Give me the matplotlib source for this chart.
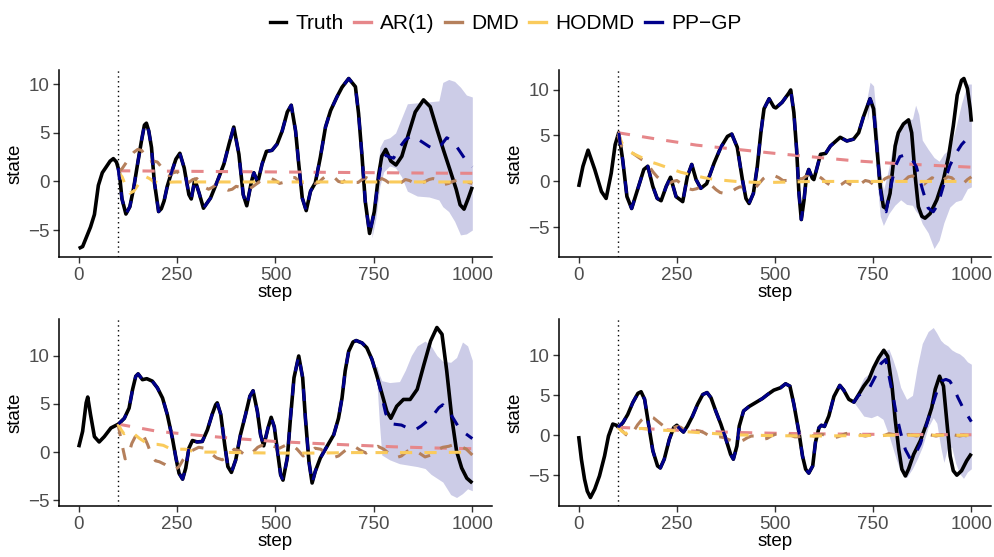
import matplotlib
matplotlib.use("Agg")
import matplotlib.pyplot as plt
from matplotlib.lines import Line2D

plt.rcParams['font.family'] = ['Liberation Sans', 'DejaVu Sans']

# ---------------- legend / series names ----------------
series_names = ["Truth", "AR(1)", "DMD", "HODMD", "PP\u2212GP"]
series_colors = ["#000000", "#E6878A", "#B5805C", "#FACB5C", "#00008B"]
x_ticks = [0, 250, 500, 750, 1000]
y_ticks = [-5, 0, 5, 10]
split_step = 100

# ---------------- panel 1 (top-left) ----------------
p1_truth_s = [0,10,20,30,40,50,60,70,80,88,96,103,110,120,130,140,150,160,167,172,178,185,192,203,210,217,225,234,247,257,268,280,286,295,306,317,335,352,369,382,394,407,418,427,439,445,455,466,477,491,504,517,530,540,551,559,568,578,589,601,614,627,640,656,669,686,703,711,720,728,739,751,762,770,780,793,806,821,838,855,876,893,910,927,944,959,969,979,990,1000]
p1_truth_v = [-6.9,-6.7,-5.7,-4.7,-3.4,-0.4,0.9,1.5,2.1,2.35,2.0,1.0,-1.8,-3.35,-2.6,-0.6,1.9,4.3,5.8,6.0,5.2,3.5,0.0,-3.1,-2.8,-2.0,-0.5,0.7,2.3,2.9,1.4,-1.35,-1.8,0.2,-1.2,-2.75,-1.7,0.0,1.8,3.85,5.6,2.8,-1.35,-2.5,0.0,0.9,-0.1,1.8,3.1,3.2,3.85,5.2,7.15,7.85,5.2,1.8,-1.7,-3.0,-1.0,-0.15,2.5,5.6,7.3,8.7,9.7,10.6,9.75,7.0,2.5,-2.05,-5.35,-3.1,0.7,2.6,3.3,2.1,1.7,2.6,4.9,7.15,8.4,7.7,5.4,3.2,1.1,-0.8,-2.4,-2.85,-1.7,-0.55]
p1_gp_s = [100,110,120,130,140,150,160,167,172,178,185,192,203,210,217,225,234,247,257,268,280,286,295,306,317,335,352,369,382,394,407,418,427,439,445,455,466,477,491,504,517,530,540,551,559,568,578,589,601,614,627,640,656,669,686,703,711,720,728,739,751,760,770,780,790,800,815,830,845,860,875,890,905,920,935,948,960,970,980,990,1000]
p1_gp_v = [1.4,-1.8,-3.35,-2.6,-0.6,1.9,4.3,5.8,6.0,5.2,3.5,0.0,-3.1,-2.8,-2.0,-0.5,0.7,2.3,2.9,1.4,-1.35,-1.8,0.2,-1.2,-2.75,-1.7,0.0,1.8,3.85,5.6,2.8,-1.35,-2.5,0.0,0.9,-0.1,1.8,3.1,3.2,3.85,5.2,7.15,7.85,5.2,1.8,-1.7,-3.0,-1.0,-0.15,2.5,5.6,7.3,8.7,9.7,10.6,9.75,7.0,2.5,-2.05,-5.35,-3.1,-0.2,2.2,2.7,2.5,2.4,3.5,4.3,4.7,4.4,4.0,3.6,3.3,3.7,4.5,4.2,3.6,3.0,2.4,1.9,1.5]
p1_band_s = [745,755,765,775,790,805,820,835,860,890,915,925,940,955,970,985,1000]
p1_band_hi = [-4.4,-1.5,3.5,4.3,4.5,5.0,6.5,8.0,8.1,8.2,8.3,10.2,10.5,10.3,9.7,8.9,8.7]
p1_band_lo = [-5.8,-3.8,-0.5,1.0,1.6,1.4,0.5,-1.0,-1.5,-1.6,-1.9,-2.6,-3.1,-4.1,-5.5,-5.4,-5.0]
p1_ar_s = [100,200,300,400,500,600,700,800,900,1000]
p1_ar_v = [1.10,1.07,1.04,1.01,0.98,0.95,0.92,0.89,0.86,0.84]
p1_hod_s = [100,110,120,130,140,150,160,170,180,190,200,250,300,400,500,600,700,800,900,1000]
p1_hod_v = [1.0,0.5,-0.5,-1.2,-1.0,-0.4,0.2,0.5,0.3,0.0,-0.1,-0.05,-0.05,-0.05,-0.05,-0.05,-0.05,-0.05,-0.05,-0.05]
p1_dmd_s = [100,110,120,130,140,150,160,170,180,190,200,210,220,230,240,250,260,270,280,290,300,310,320,330,340,350,360,370,380,390,400,410,420,430,440,450,460,470,480,490,500,510,520,530,540,550,560,570,580,590,600,610,620,630,640,650,660,670,680,690,700,710,720,730,740,750,760,770,780,790,800,810,820,830,840,850,860,870,880,890,900,910,920,930,940,950,960,970,980,990,1000]
p1_dmd_v = [1.0,1.3,1.9,2.5,3.0,3.3,3.2,2.6,2.0,2.1,2.0,1.5,0.9,0.6,0.9,1.0,0.6,0.1,-0.1,0.2,0.3,-0.1,-0.6,-0.8,-0.6,-0.3,-0.4,-0.7,-0.9,-0.8,-0.5,-0.6,-0.8,-0.8,-0.6,-0.3,0.0,0.2,0.3,0.3,0.1,-0.2,-0.1,0.2,0.4,0.4,0.0,-0.3,-0.2,0.0,-0.2,-0.1,0.3,0.6,0.6,0.4,0.0,-0.1,0.2,0.1,-0.1,-0.1,0.2,0.4,0.2,0.0,0.1,0.3,0.1,-0.2,-0.3,-0.3,-0.1,0.2,0.1,-0.1,-0.3,-0.2,0.0,0.2,0.3,0.2,-0.1,-0.3,-0.2,0.0,0.1,0.2,0.1,-0.1,-0.2]

# ---------------- panel 2 (top-right) ----------------
p2_truth_s = [0,11,24,41,58,70,83,93,102,112,123,135,150,166,176,189,200,210,223,234,248,265,277,288,299,311,326,345,362,379,390,404,417,426,434,445,455,464,472,485,497,502,518,535,540,548,555,561,567,574,580,586,595,599,608,616,629,641,658,666,683,700,713,725,742,751,759,768,776,783,793,806,814,827,840,848,857,865,874,882,895,912,929,942,954,964,975,981,990,997,1000]
p2_truth_v = [-0.6,1.65,3.4,1.3,-1.1,-1.85,0.9,4.0,5.3,2.4,-1.65,-2.95,-0.9,1.3,1.65,-0.55,-1.85,-2.1,-0.55,0.45,-1.65,-2.2,0.55,1.85,0.2,-0.75,-0.25,2.0,3.7,4.9,5.15,3.7,0.2,-1.85,-2.4,-1.3,1.65,5.3,7.9,9.0,8.1,8.0,8.6,9.6,9.95,7.5,3.5,-1.3,-4.15,-2.0,0.55,1.3,0.35,0.2,1.65,2.95,3.05,3.85,4.5,4.8,4.4,4.6,5.3,7.0,9.0,7.9,3.85,-0.55,-2.75,-2.95,-1.3,3.85,5.3,6.25,6.7,5.3,0.55,-2.75,-3.8,-4.0,-3.5,-2.0,0.2,2.75,6.05,9.4,11.0,11.2,10.1,7.9,6.5]
p2_gp_s = [102,112,123,135,150,166,176,189,200,210,223,234,248,265,277,288,299,311,326,345,362,379,390,404,417,426,434,445,455,464,472,485,497,502,518,535,540,548,555,561,567,574,580,586,595,599,608,616,629,641,658,666,683,700,713,725,742,751,759,768,776,783,793,805,818,832,846,860,875,890,903,915,930,945,960,975,990,1000]
p2_gp_v = [5.3,2.4,-1.65,-2.95,-0.9,1.3,1.65,-0.55,-1.85,-2.1,-0.55,0.45,-1.65,-2.2,0.55,1.85,0.2,-0.75,-0.25,2.0,3.7,4.9,5.15,3.7,0.2,-1.85,-2.4,-1.3,1.65,5.3,7.9,9.0,8.1,8.0,8.6,9.6,9.95,7.5,3.5,-1.3,-4.15,-2.0,0.55,1.3,0.35,0.2,1.65,2.95,3.05,3.85,4.5,4.8,4.4,4.6,5.3,7.0,9.0,7.9,3.85,-0.8,-3.2,-3.3,-1.0,1.5,2.7,2.9,2.6,1.6,-0.8,-2.9,-3.3,-2.5,-0.3,1.7,3.0,4.0,4.7,4.9]
p2_band_s = [735,742,751,759,768,776,790,805,820,835,850,858,866,875,890,905,918,930,945,960,975,990,1000]
p2_band_hi = [9.2,10.8,10.4,6.5,1.5,-1.0,1.5,5.0,6.0,6.6,6.8,8.3,7.3,4.5,3.5,2.6,2.2,3.0,3.5,5.8,8.5,10.6,10.6]
p2_band_lo = [6.6,8.3,6.0,0.5,-3.8,-4.8,-3.5,-2.6,-2.0,-2.5,-2.6,-3.2,-3.6,-4.6,-5.6,-7.3,-6.4,-4.5,-2.8,-2.2,-2.0,-0.8,-0.6]
p2_ar_s = [100,200,300,400,500,600,700,800,900,1000]
p2_ar_v = [5.3,4.6,3.95,3.5,3.05,2.65,2.25,1.97,1.75,1.55]
p2_hod_s = [100,110,120,130,140,155,170,185,200,220,240,260,280,300,320,350,400,450,500,600,700,800,900,1000]
p2_hod_v = [5.3,4.2,3.6,3.3,3.0,2.7,2.4,2.1,1.9,1.6,1.3,1.0,0.8,0.6,0.4,0.2,0.0,-0.1,-0.1,0.0,0.0,0.0,0.0,0.0]
p2_dmd_s = [100,110,120,130,140,150,160,170,180,190,200,210,220,230,240,250,260,270,280,290,300,310,320,330,340,350,360,370,380,390,400,410,420,430,440,450,460,470,480,490,500,510,520,530,540,550,560,570,580,590,600,610,620,630,640,650,660,670,680,690,700,710,720,730,740,750,760,770,780,790,800,810,820,830,840,850,860,870,880,890,900,910,920,930,940,950,960,970,980,990,1000]
p2_dmd_v = [5.0,3.8,3.3,3.2,3.0,2.7,2.4,2.2,1.6,1.0,0.5,0.1,-0.2,-0.2,0.0,0.1,-0.2,-0.6,-0.8,-0.9,-0.8,-0.6,-0.4,-0.3,-0.5,-0.9,-1.2,-1.3,-1.3,-1.1,-0.8,-0.6,-0.6,-0.8,-0.9,-0.7,-0.2,0.3,0.6,0.7,0.6,0.4,0.1,0.1,0.4,0.5,0.3,0.3,0.6,0.8,0.8,0.6,0.3,-0.1,-0.4,-0.5,-0.5,-0.3,0.0,-0.3,-0.5,-0.5,-0.2,0.1,0.0,-0.3,-0.4,-0.1,0.3,0.5,0.4,0.1,-0.2,0.1,0.5,0.6,0.3,-0.1,-0.3,0.1,0.4,0.2,-0.1,0.2,0.5,0.4,0.0,-0.3,-0.2,0.2,0.5]

# ---------------- panel 3 (bottom-left) ----------------
p3_truth_s = [0,10,19,23,30,40,52,65,82,101,116,128,137,145,151,162,173,187,200,213,225,238,247,255,264,272,280,289,301,314,327,339,348,352,361,371,379,388,399,411,424,435,443,454,462,470,481,489,497,506,513,519,530,538,547,559,569,576,585,593,601,614,631,648,660,669,677,686,697,705,720,732,745,758,770,783,793,808,825,842,860,877,894,910,923,935,948,960,973,986,1000]
p3_truth_v = [0.5,2.15,5.1,5.7,3.9,1.6,1.05,1.6,2.5,2.9,3.5,4.55,6.5,7.85,8.1,7.5,7.6,7.35,6.65,5.6,3.9,1.45,-0.6,-2.2,-2.8,-1.65,0.4,1.2,1.05,1.1,2.3,3.9,4.9,5.1,3.9,0.75,-1.5,-2.1,-0.8,1.8,3.9,5.8,6.35,4.2,1.8,0.65,2.5,3.6,2.6,-0.2,-2.35,-2.9,-0.6,3.5,7.7,9.95,7.7,3.5,-1.0,-3.2,-2.0,-0.6,0.6,1.8,3.5,5.6,8.4,10.45,11.4,11.55,11.3,10.8,9.6,7.85,6.1,4.2,3.5,4.75,5.45,5.45,6.5,9.05,11.5,12.9,12.2,8.4,3.5,0.1,-1.65,-2.7,-3.2]
p3_gp_s = [101,116,128,137,145,151,162,173,187,200,213,225,238,247,255,264,272,280,289,301,314,327,339,348,352,361,371,379,388,399,411,424,435,443,454,462,470,481,489,497,506,513,519,530,538,547,559,569,576,585,593,601,614,631,648,660,669,677,686,697,705,720,732,745,758,770,780,790,800,820,840,855,870,885,900,915,925,935,950,965,980,1000]
p3_gp_v = [2.9,3.5,4.55,6.5,7.85,8.1,7.5,7.6,7.35,6.65,5.6,3.9,1.45,-0.6,-2.2,-2.8,-1.65,0.4,1.2,1.05,1.1,2.3,3.9,4.9,5.1,3.9,0.75,-1.5,-2.1,-0.8,1.8,3.9,5.8,6.35,4.2,1.8,0.65,2.5,3.6,2.6,-0.2,-2.35,-2.9,-0.6,3.5,7.7,9.95,7.7,3.5,-1.0,-3.2,-2.0,-0.6,0.6,1.8,3.5,5.6,8.4,10.45,11.4,11.55,11.3,10.8,9.6,7.85,5.8,4.0,3.1,2.9,2.8,2.4,2.3,2.7,3.2,3.8,4.6,4.9,4.5,3.6,2.6,2.0,1.4]
p3_band_s = [752,758,764,770,790,815,830,845,860,880,895,910,925,945,960,975,988,1000]
p3_band_hi = [8.8,8.9,8.0,7.4,7.2,7.3,8.5,10.0,11.0,11.5,11.0,10.0,9.4,9.3,9.8,11.4,11.0,9.5]
p3_band_lo = [8.0,7.0,3.0,-0.3,-0.8,-1.2,-1.3,-1.4,-1.5,-1.7,-2.3,-2.7,-3.1,-4.4,-4.7,-4.3,-3.8,-4.0]
p3_ar_s = [100,200,300,400,500,600,700,800,900,1000]
p3_ar_v = [2.9,2.15,1.75,1.4,1.1,0.9,0.72,0.55,0.43,0.35]
p3_hod_s = [100,108,115,122,130,140,155,170,185,200,215,230,250,270,290,320,350,400,500,600,700,800,900,1000]
p3_hod_v = [2.9,2.3,1.9,2.1,2.2,1.9,1.4,1.0,0.8,0.8,0.7,0.4,0.3,0.3,0.1,0.0,0.0,-0.05,-0.1,-0.1,-0.05,-0.05,-0.05,0.0]
p3_dmd_s = [100,110,118,125,135,145,155,165,175,185,195,205,220,235,245,255,265,275,290,305,320,335,350,365,380,395,410,425,440,455,465,480,495,510,525,540,555,570,585,600,615,630,645,660,675,690,700,715,730,745,760,775,790,805,820,835,850,865,880,895,910,925,940,955,970,985,1000]
p3_dmd_v = [2.9,0.8,-0.7,-0.5,0.9,1.7,2.0,1.7,0.8,-0.3,-0.9,-1.0,-1.3,-1.7,-1.8,-1.5,-0.8,-0.3,0.2,0.5,0.4,-0.1,-0.6,-0.8,-0.4,0.3,0.1,-0.4,-0.1,0.5,0.7,0.3,0.6,0.4,0.7,0.8,0.3,-0.4,-0.2,0.4,0.3,-0.2,-0.6,-0.4,0.1,0.5,0.6,0.2,-0.1,0.3,0.6,0.3,-0.2,-0.6,-0.4,0.1,0.3,-0.1,-0.5,-0.3,0.2,0.5,0.6,0.8,0.6,0.3,-0.3]

# ---------------- panel 4 (bottom-right) ----------------
p4_truth_s = [0,7,15,22,30,41,53,66,76,87,96,102,113,125,138,151,159,168,180,189,201,208,218,231,242,250,259,267,277,290,303,316,327,337,349,362,375,387,394,403,409,420,434,451,468,481,497,514,527,538,548,561,570,578,586,596,603,612,618,626,637,650,665,675,688,701,713,726,739,751,764,777,787,798,806,815,823,832,840,853,870,887,899,908,919,929,937,946,954,963,975,988,1000]
p4_truth_v = [-0.1,-3.0,-5.5,-7.0,-7.8,-6.75,-5.1,-2.6,-0.1,1.4,1.25,0.95,1.6,2.6,4.1,5.25,5.45,4.5,0.75,-1.95,-3.85,-4.1,-3.0,-0.5,0.95,1.25,0.75,0.4,1.15,2.4,3.9,5.1,5.35,4.7,3.05,1.4,-0.5,-2.4,-3.0,-1.35,1.15,3.05,3.6,4.1,4.6,5.1,5.65,5.95,6.45,6.15,3.9,0.35,-2.6,-4.25,-4.75,-3.85,-0.9,0.95,1.25,1.1,2.4,4.85,6.25,5.65,4.5,4.15,5.1,6.15,7.0,8.45,9.7,10.65,9.9,6.15,2.0,-1.75,-4.25,-5.1,-4.25,-2.4,-0.7,1.6,3.45,5.75,7.4,6.15,2.0,-2.6,-4.45,-5.0,-4.45,-3.2,-2.3]
p4_gp_s = [100,113,125,138,151,159,168,180,189,201,208,218,231,242,250,259,267,277,290,303,316,327,337,349,362,375,387,394,403,409,420,434,451,468,481,497,514,527,538,548,561,570,578,586,596,603,612,618,626,637,650,665,675,688,701,713,726,740,755,770,782,790,800,810,820,832,845,855,870,885,900,915,925,935,945,955,965,980,990,1000]
p4_gp_v = [1.0,1.6,2.6,4.1,5.25,5.45,4.5,0.75,-1.95,-3.85,-4.1,-3.0,-0.5,0.95,1.25,0.75,0.4,1.15,2.4,3.9,5.1,5.35,4.7,3.05,1.4,-0.5,-2.4,-3.0,-1.35,1.15,3.05,3.6,4.1,4.6,5.1,5.65,5.95,6.45,6.15,3.9,0.35,-2.6,-4.25,-4.75,-3.85,-0.9,0.95,1.25,1.1,2.4,4.85,6.25,5.65,4.5,4.15,5.0,5.4,5.9,7.3,9.0,9.5,7.5,5.0,2.4,0.3,-1.8,-3.0,-2.6,-1.1,1.2,3.6,5.9,6.8,7.0,6.8,6.0,4.8,3.3,2.5,1.7]
p4_band_s = [701,713,726,745,760,775,790,800,810,820,835,850,862,875,890,903,912,922,930,940,950,960,970,980,990,1000]
p4_band_hi = [4.3,5.8,7.2,7.9,9.3,10.5,10.8,9.5,8.0,6.0,4.5,5.0,8.5,11.5,13.0,13.5,12.8,11.9,11.5,11.2,10.7,10.4,10.2,9.8,9.2,8.9]
p4_band_lo = [4.1,3.3,2.4,2.2,2.5,2.0,0.0,-1.6,-3.2,-4.5,-5.3,-4.2,-3.0,-1.5,1.0,2.2,1.5,-1.5,-3.4,-1.5,-1.5,-3.5,-4.8,-5.4,-4.6,-4.2]
p4_ar_s = [100,200,300,400,500,600,700,800,900,1000]
p4_ar_v = [1.0,0.75,0.5,0.35,0.25,0.18,0.13,0.1,0.08,0.06]
p4_hod_s = [100,110,120,130,145,160,180,200,230,260,300,350,400,450,500,600,700,800,900,1000]
p4_hod_v = [1.0,0.5,0.2,0.5,0.8,0.85,0.75,0.65,0.6,0.5,0.35,0.2,0.05,0.0,-0.05,-0.1,-0.05,0.0,0.0,0.0]
p4_dmd_s = [100,110,120,130,140,150,160,170,180,190,200,210,220,230,240,250,260,270,280,290,300,310,320,330,340,350,360,370,380,390,400,410,420,430,440,450,460,470,480,490,500,510,520,530,540,550,560,570,580,590,600,610,620,630,640,650,660,670,680,690,700,710,720,730,740,750,760,770,780,790,800,810,820,830,840,850,860,870,880,890,900,910,920,930,940,950,960,970,980,990,1000]
p4_dmd_v = [1.0,0.6,0.1,-0.2,0.5,1.3,1.9,2.3,2.4,2.2,1.8,1.4,1.0,0.8,0.9,1.1,1.0,0.6,0.4,0.5,0.6,0.5,0.3,0.0,-0.2,-0.3,-0.2,-0.3,-0.5,-0.7,-0.8,-0.8,-0.6,-0.3,-0.1,-0.1,-0.3,-0.5,-0.4,-0.1,0.1,0.2,0.2,0.1,0.0,-0.2,-0.2,0.0,0.1,0.0,-0.1,0.0,0.1,0.0,-0.2,-0.3,-0.2,0.0,0.2,0.3,0.3,0.2,0.0,-0.1,0.0,0.1,0.0,-0.1,0.0,0.2,0.1,0.0,-0.1,0.0,0.1,0.0,-0.1,0.0,0.1,0.1,0.0,-0.1,0.0,0.1,0.2,0.1,0.0,-0.1,0.0,-0.1,-0.3]

panels = [
    dict(truth=(p1_truth_s, p1_truth_v), gp=(p1_gp_s, p1_gp_v), band=(p1_band_s, p1_band_lo, p1_band_hi),
         ar=(p1_ar_s, p1_ar_v), dmd=(p1_dmd_s, p1_dmd_v), hod=(p1_hod_s, p1_hod_v)),
    dict(truth=(p2_truth_s, p2_truth_v), gp=(p2_gp_s, p2_gp_v), band=(p2_band_s, p2_band_lo, p2_band_hi),
         ar=(p2_ar_s, p2_ar_v), dmd=(p2_dmd_s, p2_dmd_v), hod=(p2_hod_s, p2_hod_v)),
    dict(truth=(p3_truth_s, p3_truth_v), gp=(p3_gp_s, p3_gp_v), band=(p3_band_s, p3_band_lo, p3_band_hi),
         ar=(p3_ar_s, p3_ar_v), dmd=(p3_dmd_s, p3_dmd_v), hod=(p3_hod_s, p3_hod_v)),
    dict(truth=(p4_truth_s, p4_truth_v), gp=(p4_gp_s, p4_gp_v), band=(p4_band_s, p4_band_lo, p4_band_hi),
         ar=(p4_ar_s, p4_ar_v), dmd=(p4_dmd_s, p4_dmd_v), hod=(p4_hod_s, p4_hod_v)),
]

W, H = 995, 557
fig = plt.figure(figsize=(W / 100, H / 100), dpi=100)

# axes boxes in pixels: (left, top, right, bottom)
boxes = [(59, 70, 492, 257), (559, 70, 991, 257), (59, 319, 492, 506), (559, 319, 991, 506)]

tick_col = "#4D4D4D"
lw_main = 2.6
lw_dash = 2.2

for box, pdata in zip(boxes, panels):
    l, t, r, b = box
    ax = fig.add_axes([l / W, 1 - b / H, (r - l) / W, (b - t) / H])
    bs, blo, bhi = pdata["band"]
    ax.fill_between(bs, blo, bhi, color=series_colors[4], alpha=0.2, linewidth=0)
    ax.plot(*pdata["truth"], color=series_colors[0], lw=lw_main, solid_capstyle="butt", zorder=3)
    ax.plot(*pdata["ar"], color=series_colors[1], lw=lw_dash, dashes=(4, 4), dash_capstyle="butt", zorder=4)
    ax.plot(*pdata["dmd"], color=series_colors[2], lw=lw_dash, dashes=(4, 4), dash_capstyle="butt", zorder=4)
    ax.plot(*pdata["hod"], color=series_colors[3], lw=lw_dash, dashes=(4, 4), dash_capstyle="butt", zorder=4)
    ax.plot(*pdata["gp"], color=series_colors[4], lw=lw_dash, dashes=(4, 4), dash_capstyle="butt", zorder=5)
    ax.axvline(split_step, color="black", lw=1.0, linestyle=(0, (1, 2.5)), zorder=2)

    ax.set_xlim(-50, 1050)
    ax.margins(y=0.05)
    ax.set_xticks(x_ticks)
    ax.set_yticks(y_ticks)
    for side in ["top", "right"]:
        ax.spines[side].set_visible(False)
    for side in ["left", "bottom"]:
        ax.spines[side].set_linewidth(1.1)
        ax.spines[side].set_color("black")
    ax.tick_params(axis="both", direction="out", length=4, width=1.0, color="#333333",
                   labelsize=13.5, labelcolor=tick_col, pad=3)
    ax.set_xlabel("step", fontsize=13.5, labelpad=0)
    ax.set_ylabel("state", fontsize=13.5, labelpad=3)
    ax.set_facecolor("white")

handles = [Line2D([0], [0], color=c, lw=2.4) for c in series_colors]
fig.legend(handles, series_names, loc="upper center", bbox_to_anchor=(0.508, 1.008), ncol=5,
           frameon=False, fontsize=15, handlelength=0.8, handletextpad=0.45, columnspacing=0.5)

fig.savefig("out.png", dpi=100)
